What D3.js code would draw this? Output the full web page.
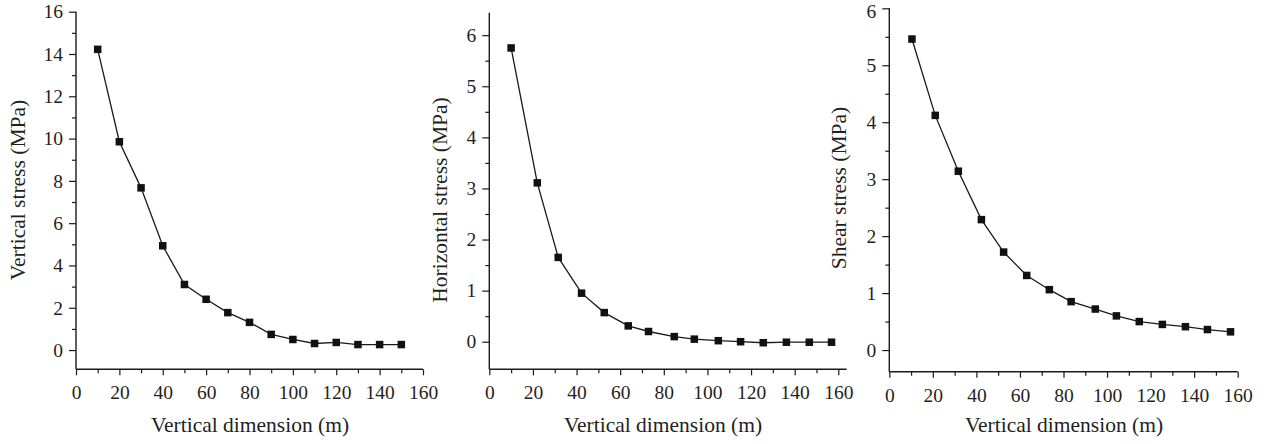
<!DOCTYPE html>
<html>
<head>
<meta charset="utf-8">
<script src="https://cdn.jsdelivr.net/npm/d3@7"></script>
<style>
  html, body { margin: 0; padding: 0; background: #fff; }
  svg text { font-family: "Liberation Serif", "DejaVu Serif", serif; fill: #231f20; }
</style>
</head>
<body>
<svg id="chart" width="1273" height="444"></svg>
<script>
// Depth below the excavation (m) at each monitoring point
const depthVertical = [10, 20, 30, 40, 50, 60, 70, 80, 90, 100, 110, 120, 130, 140, 150];
const depthHorizontal = [10, 22, 31.6, 42.3, 52.7, 63.7, 73, 84.8, 94, 105, 115.2, 125.6, 136.2, 146.7, 156.9];
const depthShear = [10.4, 21.1, 31.7, 42.3, 52.5, 63.1, 73.5, 83.5, 94.6, 104.3, 114.8, 125.4, 136, 146.1, 156.7];

// Stress values (MPa)
const verticalStress = [14.22, 9.85, 7.67, 4.93, 3.1, 2.4, 1.77, 1.31, 0.74, 0.5, 0.31, 0.36, 0.26, 0.26, 0.26];
const horizontalStress = [5.75, 3.11, 1.65, 0.95, 0.57, 0.31, 0.2, 0.1, 0.05, 0.02, 0.0, -0.02, -0.01, -0.01, -0.01];
const shearStress = [5.46, 4.12, 3.14, 2.29, 1.72, 1.31, 1.06, 0.85, 0.72, 0.6, 0.5, 0.45, 0.41, 0.36, 0.32];

// Tick labels
const xTicks = [0, 20, 40, 60, 80, 100, 120, 140, 160];
const yTicksVertical = [0, 2, 4, 6, 8, 10, 12, 14, 16];
const yTicksHorizontal = [0, 1, 2, 3, 4, 5, 6];
const yTicksShear = [0, 1, 2, 3, 4, 5, 6];

const xTitle = "Vertical dimension (m)";

const panels = [
  {
    x: depthVertical, y: verticalStress, yTitle: "Vertical stress (MPa)",
    yTicks: yTicksVertical,
    xDomain: [0, 160], yDomain: [-0.91, 16], yMinorStep: 1,
    left: 76, right: 423, top: 11.7, bottom: 369.3, xRangeEnd: 423,
    yTitleX: 18, yTitleY: 190, xTitleX: 250
  },
  {
    x: depthHorizontal, y: horizontalStress, yTitle: "Horizontal stress (MPa)",
    yTicks: yTicksHorizontal,
    xDomain: [0, 160], yDomain: [-0.54, 6.44], yMinorStep: 0.5,
    left: 489.3, right: 846.7, top: 12.7, bottom: 369.3, xRangeEnd: 838.3,
    yTitleX: 440, yTitleY: 200, xTitleX: 663
  },
  {
    x: depthShear, y: shearStress, yTitle: "Shear stress (MPa)",
    yTicks: yTicksShear,
    xDomain: [0, 160], yDomain: [-0.38, 6], yMinorStep: 0.5,
    left: 889.3, right: 1237.7, top: 8.3, bottom: 371.7, xRangeEnd: 1237.7,
    yTitleX: 839, yTitleY: 188, xTitleX: 1064
  }
];

const svg = d3.select("#chart");
const ink = "#1a1a1a";
const tickFont = 19.5;
const titleFont = 21.5;

panels.forEach(p => {
  const xScale = d3.scaleLinear().domain(p.xDomain).range([p.left, p.xRangeEnd]);
  const yScale = d3.scaleLinear().domain(p.yDomain).range([p.bottom, p.top]);

  const g = svg.append("g");

  // minor ticks halfway between labelled ticks
  const xMinor = d3.range(10, 160, 20);
  const yMax = p.yTicks[p.yTicks.length - 1];
  const yMinor = d3.range(p.yTicks[0] + p.yMinorStep, yMax, p.yMinorStep)
    .filter(v => !p.yTicks.some(t => Math.abs(t - v) < 1e-9));

  g.append("g")
    .attr("transform", `translate(0,${p.bottom})`)
    .call(d3.axisBottom(xScale).tickValues(xMinor).tickSize(4).tickFormat(""))
    .call(a => a.select(".domain").remove())
    .call(a => a.selectAll("line").attr("stroke", ink).attr("stroke-width", 1.2));

  g.append("g")
    .attr("transform", `translate(${p.left},0)`)
    .call(d3.axisLeft(yScale).tickValues(yMinor).tickSize(4).tickFormat(""))
    .call(a => a.select(".domain").remove())
    .call(a => a.selectAll("line").attr("stroke", ink).attr("stroke-width", 1.2));

  // major ticks & labels
  const xAxis = g.append("g")
    .attr("transform", `translate(0,${p.bottom})`)
    .call(d3.axisBottom(xScale).tickValues(xTicks).tickSize(6).tickPadding(10).tickSizeOuter(0).tickFormat(d3.format("d")));
  xAxis.select(".domain").remove();
  xAxis.selectAll("line").attr("stroke", ink).attr("stroke-width", 1.2);
  xAxis.selectAll("text").attr("font-size", tickFont).style("font-family", "Liberation Serif").attr("fill", "#231f20");

  const yAxis = g.append("g")
    .attr("transform", `translate(${p.left},0)`)
    .call(d3.axisLeft(yScale).tickValues(p.yTicks).tickSize(7).tickPadding(6).tickSizeOuter(0).tickFormat(d3.format("d")));
  yAxis.select(".domain").remove();
  yAxis.selectAll("line").attr("stroke", ink).attr("stroke-width", 1.2);
  yAxis.selectAll("text").attr("font-size", tickFont).style("font-family", "Liberation Serif").attr("fill", "#231f20")
    .attr("dy", d => (yScale(d) < 10 ? "0.45em" : "0.32em"));

  // axis lines
  g.append("line")
    .attr("x1", p.left).attr("x2", p.right)
    .attr("y1", p.bottom).attr("y2", p.bottom)
    .attr("stroke", ink).attr("stroke-width", 1.4);
  g.append("line")
    .attr("x1", p.left).attr("x2", p.left)
    .attr("y1", p.top).attr("y2", p.bottom)
    .attr("stroke", ink).attr("stroke-width", 1.4);

  // data
  const pts = p.x.map((d, i) => [d, p.y[i]]);
  const line = d3.line().x(d => xScale(d[0])).y(d => yScale(d[1]));
  g.append("path")
    .attr("d", line(pts))
    .attr("fill", "none")
    .attr("stroke", ink)
    .attr("stroke-width", 1.3);

  const s = 7.5;
  g.selectAll("rect.pt").data(pts).join("rect")
    .attr("class", "pt")
    .attr("x", d => xScale(d[0]) - s / 2)
    .attr("y", d => yScale(d[1]) - s / 2)
    .attr("width", s).attr("height", s)
    .attr("fill", "#111");

  // titles
  g.append("text")
    .attr("x", p.xTitleX).attr("y", 432)
    .attr("text-anchor", "middle")
    .attr("font-size", titleFont)
    .text(xTitle);

  g.append("text")
    .attr("transform", `translate(${p.yTitleX},${p.yTitleY}) rotate(-90)`)
    .attr("text-anchor", "middle")
    .attr("dominant-baseline", "central")
    .attr("font-size", titleFont)
    .text(p.yTitle);
});
</script>
</body>
</html>
